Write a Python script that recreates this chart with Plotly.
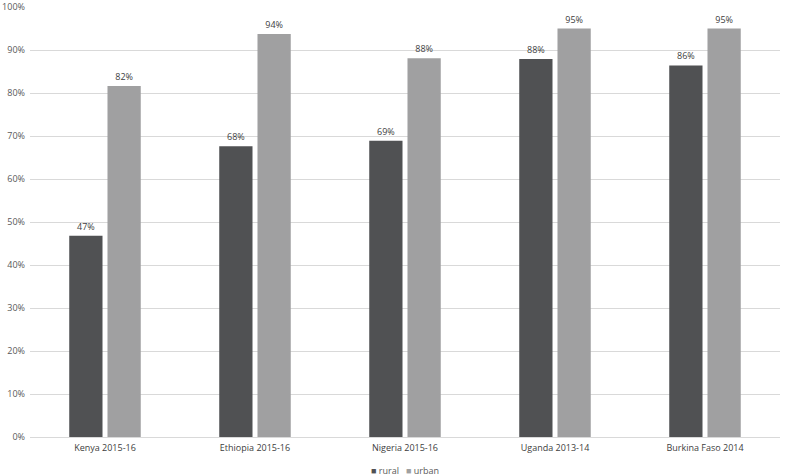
import plotly.graph_objects as go

categories = ["Kenya 2015-16", "Ethiopia 2015-16", "Nigeria 2015-16", "Uganda 2013-14", "Burkina Faso 2014"]
rural = [46.8, 67.6, 68.9, 87.9, 86.4]
urban = [81.6, 93.7, 88.1, 95.0, 95.0]
y_ticks = [0, 10, 20, 30, 40, 50, 60, 70, 80, 90, 100]

font_family = "Open Sans, Liberation Sans, Arial, sans-serif"
txt_color = "#595959"
rural_color = "#505153"
urban_color = "#a0a0a1"

fig = go.Figure()
fig.add_trace(go.Bar(
    name="rural", x=categories, y=rural,
    marker=dict(color=rural_color, line=dict(width=0)),
    text=[f"{round(v)}%" for v in rural], textposition="outside",
    textfont=dict(size=9, color="#404040", family=font_family),
    cliponaxis=False,
))
fig.add_trace(go.Bar(
    name="urban", x=categories, y=urban,
    marker=dict(color=urban_color, line=dict(width=0)),
    text=[f"{round(v)}%" for v in urban], textposition="outside",
    textfont=dict(size=9, color="#404040", family=font_family),
    cliponaxis=False,
))

fig.add_annotation(
    xref="paper", yref="paper", x=0.5, y=-0.078, xanchor="center", yanchor="middle",
    showarrow=False,
    text=(f'<span style="color:{rural_color}">■</span> rural   '
          f'<span style="color:{urban_color}">■</span> urban'),
    font=dict(size=9, color=txt_color, family=font_family),
)

fig.update_layout(
    width=787, height=476,
    margin=dict(l=30, r=7, t=7, b=39, autoexpand=False),
    paper_bgcolor="white", plot_bgcolor="white",
    barmode="group", bargap=0.49, bargroupgap=0.13,
    font=dict(family=font_family, size=9, color=txt_color),
    showlegend=False,
)
fig.update_yaxes(range=[0, 100], tickvals=y_ticks, ticktext=[f"{t}%" for t in y_ticks],
                 showgrid=True, gridcolor="#d9d9d9", gridwidth=1, zeroline=False,
                 showline=False, ticks="", ticklabelstandoff=4, automargin=False,
                 ticklabeloverflow="allow",
                 tickfont=dict(size=9, color=txt_color))
fig.update_xaxes(showline=True, linecolor="#d9d9d9", ticks="", showgrid=False,
                 ticklabelstandoff=2, automargin=False,
                 tickfont=dict(size=9, color="#404040"))

fig.write_html("out.html", config={"displayModeBar": False},
               post_script="document.body.style.margin='0';")
